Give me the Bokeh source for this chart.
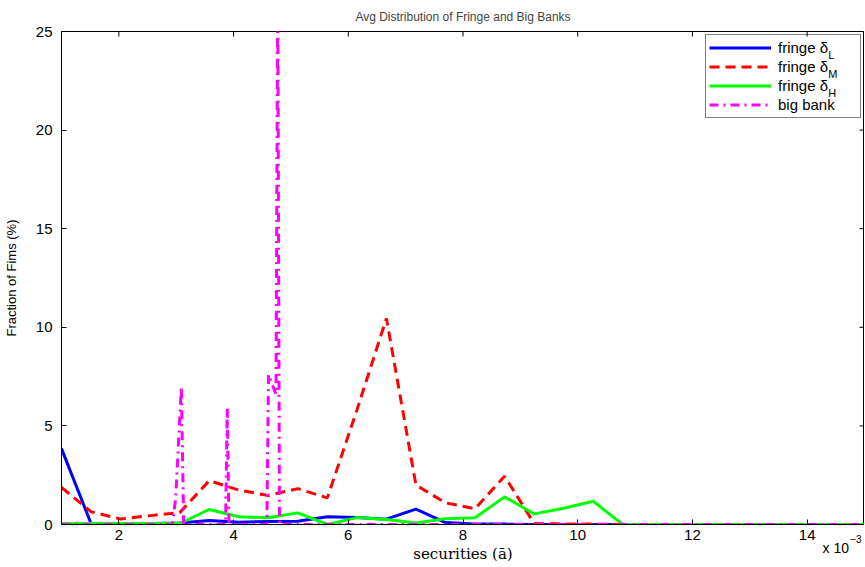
import math
from bokeh.plotting import figure
from bokeh.models import Legend, LegendItem, Label, Range1d, FixedTicker
from bokeh.embed import file_html
from bokeh.resources import INLINE

# ---- data (x in units of 1e-3) ----
x_grid = [1.000, 1.515, 2.030, 2.545, 3.060, 3.575, 4.090, 4.605, 5.120, 5.635,
          6.150, 6.665, 7.180, 7.695, 8.210, 8.725, 9.240, 9.755, 10.270, 10.785,
          11.300, 11.815, 12.330, 12.845, 13.360, 13.875, 14.390, 15.000]
fringe_L = [3.85, 0.05, 0.05, 0.05, 0.08, 0.20, 0.12, 0.15, 0.17, 0.39,
            0.35, 0.27, 0.78, 0.10, 0.03, 0.02, 0.00, 0.00, 0.00, 0.00,
            0.00, 0.00, 0.00, 0.00, 0.00, 0.00, 0.00, 0.00]
fringe_M = [1.88, 0.65, 0.28, 0.45, 0.60, 2.22, 1.75, 1.47, 1.82, 1.35,
            5.80, 10.45, 2.00, 1.10, 0.80, 2.45, 0.05, 0.03, 0.02, 0.00,
            0.00, 0.00, 0.00, 0.00, 0.00, 0.00, 0.00, 0.00]
fringe_H = [0.05, 0.05, 0.05, 0.05, 0.05, 0.76, 0.39, 0.34, 0.59, 0.00,
            0.35, 0.25, 0.08, 0.29, 0.34, 1.40, 0.54, 0.82, 1.18, 0.00,
            0.00, 0.00, 0.00, 0.00, 0.00, 0.00, 0.00, 0.00]
bb_x = [1.00, 2.93, 2.99, 3.09, 3.13, 3.86, 3.89, 3.92, 4.58, 4.61, 4.74, 4.77, 4.80, 15.00]
bb_y = [0.00, 0.00, 1.30, 7.00, 0.00, 0.00, 5.90, 0.00, 0.00, 7.60, 6.60, 28.00, 0.00, 0.00]

x_ticks = [2, 4, 6, 8, 10, 12, 14]
y_ticks = [0, 5, 10, 15, 20, 25]
X_MIN, X_MAX, Y_MIN, Y_MAX = 1, 15, 0, 25

SANS = "Liberation Sans"

p = figure(frame_width=803, frame_height=493, output_backend="svg", toolbar_location=None,
           x_range=Range1d(X_MIN, X_MAX), y_range=Range1d(Y_MIN, Y_MAX),
           min_border_left=53, min_border_right=0, min_border_top=24,
           min_border_bottom=0, background_fill_color="white",
           border_fill_color="white")

p.title.text = "Avg Distribution of Fringe and Big Banks"
p.title.align = "center"
p.title.text_font = SANS
p.title.text_font_size = "12px"
p.title.text_font_style = "normal"
p.title.standoff = 15

p.xgrid.grid_line_color = None
p.ygrid.grid_line_color = None
p.outline_line_color = "black"

p.xaxis.ticker = FixedTicker(ticks=x_ticks)
p.yaxis.ticker = FixedTicker(ticks=y_ticks)
for ax in [p.xaxis[0], p.yaxis[0]]:
    ax.major_tick_in = 5
    ax.major_tick_out = 0
    ax.minor_tick_line_color = None
    ax.axis_line_color = "black"
    ax.major_tick_line_color = "black"
    ax.major_label_text_font = SANS
    ax.major_label_text_font_size = "15px"
    ax.major_label_text_color = "black"

p.xaxis.axis_label = "securities (ā)"
p.xaxis.axis_label_text_font = "DejaVu Serif"
p.xaxis.axis_label_text_font_size = "15px"
p.xaxis.axis_label_text_font_style = "normal"
p.xaxis.axis_label_text_color = "black"
p.xaxis.axis_label_standoff = 2
p.xaxis.major_label_standoff = 5

p.yaxis.axis_label = "Fraction of Fims (%)"
p.yaxis.axis_label_text_font = SANS
p.yaxis.axis_label_text_font_size = "13px"
p.yaxis.axis_label_text_font_style = "normal"
p.yaxis.axis_label_text_color = "black"
p.yaxis.axis_label_standoff = 14
p.yaxis.major_label_standoff = 9

# inward ticks on the top and right edges of the box
p.ray(x=x_ticks, y=Y_MAX, length=5, length_units="screen", angle=-math.pi / 2,
      line_color="black", line_width=1)
p.ray(x=X_MAX, y=y_ticks, length=5, length_units="screen", angle=math.pi,
      line_color="black", line_width=1)

rL = p.line(x_grid, fringe_L, line_color="#0000ff", line_width=3)
rM = p.line(x_grid, fringe_M, line_color="#ff0000", line_width=3, line_dash="10 6")
rH = p.line(x_grid, fringe_H, line_color="#00ff00", line_width=3)
rB = p.line(bb_x, bb_y, line_color="#ff00ff", line_width=3, line_dash="9 5 2 5")

legend = Legend(items=[LegendItem(label="fringe δ", renderers=[rL]),
                       LegendItem(label="fringe δ ", renderers=[rM]),
                       LegendItem(label="fringe δ  ", renderers=[rH]),
                       LegendItem(label="big bank", renderers=[rB])],
                location="top_right", margin=3, padding=3, spacing=0,
                glyph_width=62, glyph_height=19, label_height=19, label_width=79,
                label_standoff=7, label_text_font=SANS, label_text_font_size="15px",
                label_text_color="black",
                border_line_color="black", border_line_width=1,
                background_fill_color="white", background_fill_alpha=0)
p.add_layout(legend, "center")

for sub, yy in (("L", 23.80), ("M", 22.84), ("H", 21.88)):
    p.add_layout(Label(x=14.37, y=yy, text=sub, text_color="black",
                       text_font=SANS, text_font_size="11px", text_baseline="middle",
                       text_align="left"))

p.add_layout(Label(x=14.73, y=-1.17, text="x 10", text_color="black",
                   text_font=SANS, text_font_size="14px", text_baseline="middle",
                   text_align="right"), "below")
p.add_layout(Label(x=14.75, y=-0.74, text="−3", text_color="black",
                   text_font=SANS, text_font_size="10px", text_baseline="middle",
                   text_align="left"), "below")

open("out.html", "w").write(file_html(p, INLINE))
